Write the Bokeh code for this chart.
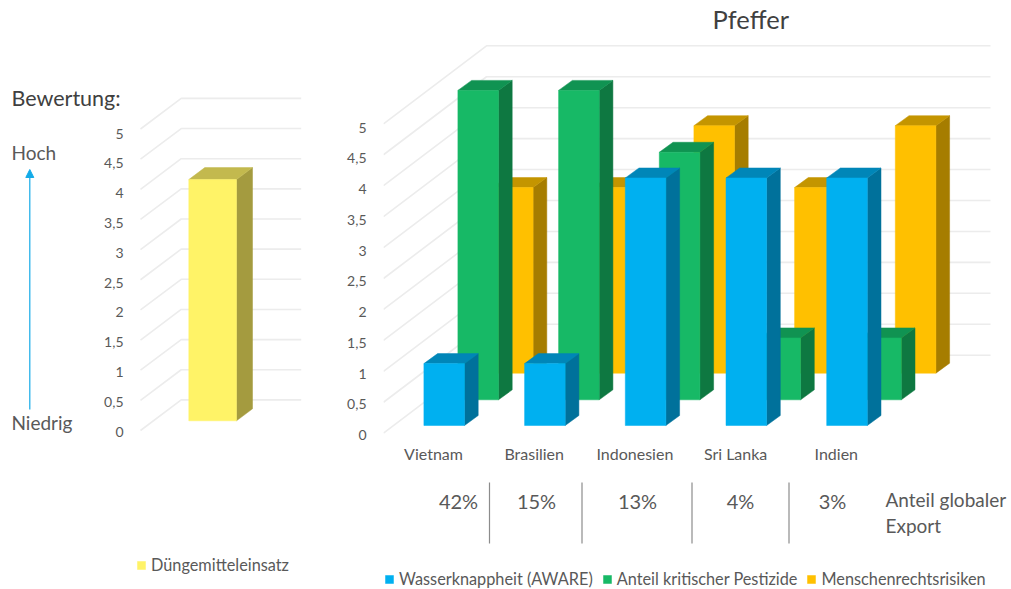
from bokeh.embed import file_html
from bokeh.resources import INLINE
from bokeh.plotting import figure
from bokeh.layouts import row
from bokeh.models import (Arrow, FixedTicker, Legend, LegendItem, LinearAxis,
                          NormalHead, Range1d, Title)
from bokeh.core.properties import value

# ---------- data ----------
categories = ["Vietnam", "Brasilien", "Indonesien", "Sri Lanka", "Indien"]
water = [1, 1, 4, 4, 4]
pesticides = [5, 5, 4, 1, 1]
human_rights = [3, 3, 4, 3, 4]
fertilizer = [4]
export_share = ["42%", "15%", "13%", "4%", "3%"]
value_ticks = [0, 0.5, 1, 1.5, 2, 2.5, 3, 3.5, 4, 4.5, 5]
value_labels = ["0", "0,5", "1", "1,5", "2", "2,5", "3", "3,5", "4", "4,5", "5"]
series_names = ["Wasserknappheit (AWARE)", "Anteil kritischer Pestizide", "Menschenrechtsrisiken"]
fert_name = "Düngemitteleinsatz"

# ---------- styling / layout ----------
FONT = "Lato"
TXT = "#595959"
GRID = "#ececec"
H = 589
TOP = 34
P0_W, P0_OVER = 125, 25
P1_X, P2_X, P_END = 100, 342, 1011
BLUE = ("#00B0F0", "#0086B8", "#00719B")
GREEN = ("#17B966", "#109352", "#0E7841")
ORANGE = ("#FFC000", "#C49500", "#A67D00")
YELLOW = ("#FFF367", "#C3B94E", "#A49B3F")


def style_axis(ax, standoff):
    ax.ticker = FixedTicker(ticks=value_ticks)
    ax.major_label_overrides = dict(zip(value_ticks, value_labels))
    ax.axis_line_color = None
    ax.major_tick_line_color = None
    ax.minor_tick_line_color = None
    ax.major_tick_out = 0
    ax.major_label_standoff = standoff
    ax.major_label_text_font = FONT
    ax.major_label_text_font_size = "14px"
    ax.major_label_text_color = TXT


def bar_faces(x0, w, base, h, dx, dy):
    top = base + h
    front = ([x0, x0 + w, x0 + w, x0], [base, base, top, top])
    lid = ([x0, x0 + w, x0 + w + dx, x0 + dx], [top, top, top + dy, top + dy])
    side = ([x0 + w, x0 + w + dx, x0 + w + dx, x0 + w], [base, base + dy, top + dy, top])
    return front, lid, side


def draw_series(p, xs, ws, base, vals, dx, dy, cols):
    faces = [bar_faces(x, ws, base, v, dx, dy) for x, v in zip(xs, vals)]
    p.patches([f[2][0] for f in faces], [f[2][1] for f in faces], fill_color=cols[2], line_color=cols[2], line_width=0.5)
    p.patches([f[1][0] for f in faces], [f[1][1] for f in faces], fill_color=cols[1], line_color=cols[1], line_width=0.5)
    return p.patches([f[0][0] for f in faces], [f[0][1] for f in faces], fill_color=cols[0], line_color=cols[0], line_width=0.5)


def walls(p, x_front, depth_x, depth_y, right):
    for v in value_ticks:
        p.line([x_front, x_front + depth_x, right], [v, v + depth_y, v + depth_y], line_color=GRID, line_width=1.6)


def base_fig(width, left, x_end, y_top, y_bottom, **kw):
    p = figure(width=width, height=H, toolbar_location=None, output_backend="svg",
               x_range=Range1d(0, x_end), y_range=Range1d(y_bottom, y_top),
               x_axis_type=None, y_axis_type=None,
               min_border_left=left, min_border_right=0, min_border_top=TOP, min_border_bottom=0,
               outline_line_color=None, background_fill_color=None, border_fill_color=None, **kw)
    p.xgrid.visible = False
    p.ygrid.visible = False
    return p


def value_axis(p, y0_px, unit_px, standoff):
    """tick labels sit on their own scale, slightly off the gridline ends"""
    p.extra_y_ranges = {"labels": Range1d((y0_px - H) / unit_px, (y0_px - TOP) / unit_px)}
    ax = LinearAxis(y_range_name="labels")
    style_axis(ax, standoff)
    p.add_layout(ax, "left")


def add_legend(p, items, x, y, spacing):
    leg = Legend(items=items, orientation="horizontal", location=(x, y),
                 background_fill_alpha=0, border_line_alpha=0, margin=0, padding=0,
                 glyph_width=10, glyph_height=10, label_standoff=5, spacing=spacing,
                 label_text_font=FONT, label_text_font_size="16.3px", label_text_color=TXT)
    p.add_layout(leg, "center")


# ---------- left captions ----------
p0 = base_fig(P0_W, 0, P0_W, TOP, H, margin=(0, -P0_OVER, 0, 0))
p0.text([11], [97], text=["Bewertung:"], text_font=value(FONT), text_font_size="21.5px",
        text_color="#404040", text_baseline="middle")
p0.text([11, 11], [152, 422], text=["Hoch", "Niedrig"], text_font=value(FONT), text_font_size="19px",
        text_color=TXT, text_baseline="middle")
p0.add_layout(Arrow(x_start=29.3, y_start=409, x_end=29.3, y_end=169, line_color="#14ABE8", line_width=1.2,
                    end=NormalHead(size=8, fill_color="#14ABE8", line_color="#14ABE8")))

# ---------- left chart ----------
L_LEFT, L_Y0, L_U = 134, 430.0, 60.3
lx = lambda X: X - L_LEFT
ly = lambda Y: (L_Y0 - Y) / L_U
p1 = base_fig(P2_X - P1_X, L_LEFT - P1_X, P2_X - L_LEFT, ly(TOP), ly(H))
value_axis(p1, 431, 59.6, 11)
walls(p1, lx(140), 40.7, 30.6 / L_U, lx(300.7))
r_fert = draw_series(p1, [lx(188.3)], 47.7, ly(420.3), fertilizer, 16, 12 / L_U, YELLOW)
add_legend(p1, [LegendItem(label=fert_name, renderers=[r_fert])], lx(136), H - 564 - 10, 0)

# ---------- right chart ----------
R_LEFT, R_Y0, R_U = 383, 432.7, 61.88
rx = lambda X: X - R_LEFT
ry = lambda Y: (R_Y0 - Y) / R_U
p2 = base_fig(P_END - P2_X, R_LEFT - P2_X, P_END - R_LEFT, ry(TOP), ry(H))
p2.add_layout(Title(text="Pfeffer", text_font=FONT, text_font_size="25.5px", text_font_style="normal",
                    text_color="#404040", align="left", offset=329, standoff=1), "above")
value_axis(p2, 434.7, 61.5, 17)
walls(p2, 0, 103, 78 / R_U, rx(990))

PITCH = 100.7
BAR_W = 40.6
DX, DY = 13.7, 10 / R_U
idx = range(len(categories))
r_or = draw_series(p2, [rx(492) + i * PITCH for i in idx], BAR_W, ry(372.7), human_rights, DX, DY, ORANGE)
r_gr = draw_series(p2, [rx(457.4) + i * PITCH for i in idx], BAR_W, ry(399.3), pesticides, DX, DY, GREEN)
r_bl = draw_series(p2, [rx(423.4) + i * PITCH for i in idx], BAR_W, ry(425), water, DX, DY, BLUE)

p2.text([rx(433) + i * PITCH for i in idx], [ry(453)] * 5, text=categories, text_font=value(FONT),
        text_font_size="16px", text_color=TXT, text_align="center", text_baseline="middle")
share_x = [458, 536, 637, 740, 832]
p2.text([rx(x) for x in share_x], [ry(500)] * 5, text=export_share, text_font=value(FONT),
        text_font_size="20px", text_color=TXT, text_align="center", text_baseline="middle")
sep_x = [489, 581.5, 691.5, 788.5]
p2.segment([rx(x) for x in sep_x], [ry(482)] * 4, [rx(x) for x in sep_x], [ry(543)] * 4,
           line_color="#8c8c8c", line_width=1.2)
p2.text([rx(885)] * 2, [ry(499), ry(525)], text=["Anteil globaler", "Export"], text_font=value(FONT),
        text_font_size="19px", text_color=TXT, text_align="left", text_baseline="middle")
add_legend(p2, [LegendItem(label=series_names[0], renderers=[r_bl]),
                LegendItem(label=series_names[1], renderers=[r_gr]),
                LegendItem(label=series_names[2], renderers=[r_or])], rx(384), H - 578 - 10, 9)

layout = row(p0, p1, p2, spacing=0)
open("out.html", "w").write(file_html(layout, INLINE))
